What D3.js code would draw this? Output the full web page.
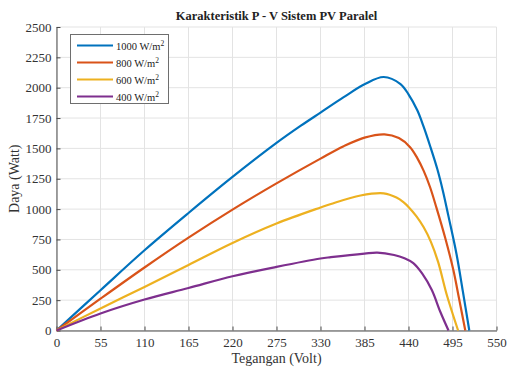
<!DOCTYPE html>
<html>
<head>
<meta charset="utf-8">
<script src="https://cdn.jsdelivr.net/npm/d3@7"></script>
<style>
  body { margin: 0; background: #fff; }
  svg text { font-family: "Liberation Serif", "Times New Roman", serif; }
</style>
</head>
<body>
<div id="chart"></div>
<script>
// irradiance levels (legend)
var labels = ['1000', '800', '600', '400'];
var colors = ['#0072BD', '#D95319', '#EDB120', '#7E2F8E'];

// voltage (V) / power (W), one pair per curve
var v1000 = [0, 55, 110, 165, 220, 275, 305, 330, 359, 385, 409, 430, 440, 451, 459, 467, 476, 483, 490, 500, 508, 516];
var p1000 = [0, 332, 661, 968, 1265, 1545, 1685, 1795, 1922, 2028, 2088, 2030, 1945, 1814, 1677, 1520, 1330, 1150, 940, 630, 320, 0];

var v800 = [0, 55, 110, 165, 220, 275, 330, 359, 385, 410, 428, 442, 451, 459, 467, 475, 486, 496, 503, 511];
var p800 = [0, 262, 519, 765, 996, 1212, 1416, 1518, 1589, 1616, 1585, 1510, 1420, 1315, 1180, 1010, 760, 500, 270, 0];

var v600 = [0, 55, 110, 165, 220, 275, 330, 343, 380, 409, 425, 434, 440, 450, 459, 468, 477, 488, 502];
var p600 = [0, 182, 359, 540, 721, 881, 1013, 1042, 1112, 1130, 1095, 1055, 1018, 940, 850, 730, 565, 290, 0];

var v400 = [0, 55, 110, 165, 220, 275, 330, 343, 385, 401, 422, 435, 446, 457, 469, 480, 490];
var p400 = [0, 140, 255, 350, 447, 524, 593, 604, 634, 642, 622, 595, 555, 470, 335, 150, 0];

var xTicks = [0, 55, 110, 165, 220, 275, 330, 385, 440, 495, 550];
var yTicks = [0, 250, 500, 750, 1000, 1250, 1500, 1750, 2000, 2250, 2500];

var series = [
  { v: v1000, p: p1000 },
  { v: v800, p: p800 },
  { v: v600, p: p600 },
  { v: v400, p: p400 }
];

var W = 507, H = 369;
var m = { left: 56.5, right: 10.5, top: 27, bottom: 38.5 };
var pw = W - m.left - m.right, ph = H - m.top - m.bottom;
var axisColor = '#4a4a4a', textColor = '#333', gridColor = '#e3e3e3';

var svg = d3.select('#chart').append('svg')
  .attr('width', W)
  .attr('height', H);

var x = d3.scaleLinear().domain([0, 550]).range([m.left, m.left + pw]);
var y = d3.scaleLinear().domain([0, 2500]).range([m.top + ph, m.top]);

// grid
svg.append('g').selectAll('line').data(xTicks).enter().append('line')
  .attr('x1', function(d) { return x(d); })
  .attr('x2', function(d) { return x(d); })
  .attr('y1', y(0)).attr('y2', y(2500))
  .style('stroke', gridColor).style('stroke-width', 1);
svg.append('g').selectAll('line').data(yTicks).enter().append('line')
  .attr('y1', function(d) { return y(d); })
  .attr('y2', function(d) { return y(d); })
  .attr('x1', x(0)).attr('x2', x(550))
  .style('stroke', gridColor).style('stroke-width', 1);

// axes (ticks point inward)
var xAxis = svg.append('g')
  .attr('transform', 'translate(0,' + y(0) + ')')
  .call(d3.axisBottom(x).tickValues(xTicks).tickFormat(d3.format('d'))
    .tickSizeInner(-4).tickSizeOuter(0).tickPadding(7));
var yAxis = svg.append('g')
  .attr('transform', 'translate(' + x(0) + ',0)')
  .call(d3.axisLeft(y).tickValues(yTicks).tickFormat(d3.format('d'))
    .tickSizeInner(-4).tickSizeOuter(0).tickPadding(5));

[xAxis, yAxis].forEach(function(a) {
  a.select('.domain').style('stroke', axisColor);
  a.selectAll('.tick line').style('stroke', axisColor);
  a.selectAll('.tick text')
    .style('font-family', '"Liberation Serif", serif')
    .style('font-size', '13px')
    .style('fill', textColor);
});

// curves
var line = d3.line()
  .x(function(d) { return x(d[0]); })
  .y(function(d) { return y(d[1]); })
  .curve(d3.curveCatmullRom.alpha(0.5));

series.forEach(function(s, i) {
  var pts = s.v.map(function(v, k) { return [v, s.p[k]]; });
  svg.append('path')
    .attr('d', line(pts))
    .style('fill', 'none')
    .style('stroke', colors[i])
    .style('stroke-width', 2.2)
    .style('stroke-linejoin', 'round');
});

// title and axis labels
svg.append('text')
  .attr('x', x(275)).attr('y', 20)
  .attr('text-anchor', 'middle')
  .style('font-size', '12.5px')
  .style('font-weight', 'bold')
  .style('fill', '#222')
  .text('Karakteristik P - V Sistem PV Paralel');

svg.append('text')
  .attr('x', x(275)).attr('y', 363)
  .attr('text-anchor', 'middle')
  .style('font-size', '14px')
  .style('fill', textColor)
  .text('Tegangan (Volt)');

svg.append('text')
  .attr('transform', 'translate(19,' + y(1250) + ') rotate(-90)')
  .attr('text-anchor', 'middle')
  .style('font-size', '14px')
  .style('fill', textColor)
  .text('Daya (Watt)');

// legend
var lg = svg.append('g');
lg.append('rect')
  .attr('x', 70.5).attr('y', 34.5)
  .attr('width', 98).attr('height', 69)
  .style('fill', '#fff')
  .style('stroke', '#6e6e6e')
  .style('stroke-width', 1);

labels.forEach(function(l, i) {
  var ly = 45.5 + i * 17;
  lg.append('line')
    .attr('x1', 77).attr('x2', 113)
    .attr('y1', ly).attr('y2', ly)
    .style('stroke', colors[i])
    .style('stroke-width', 2.2);
  var t = lg.append('text')
    .attr('x', 116).attr('y', ly + 4)
    .style('font-size', '10.5px')
    .style('fill', '#222');
  t.append('tspan').text(l + ' W/m');
  t.append('tspan').attr('dy', -4).style('font-size', '7.5px').text('2');
});
</script>
</body>
</html>
